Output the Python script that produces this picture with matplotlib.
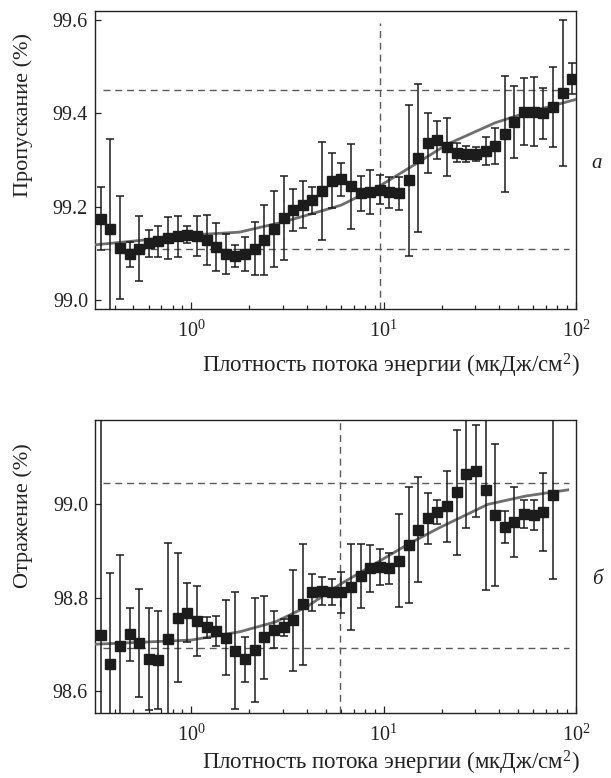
import matplotlib
matplotlib.use("Agg")
import matplotlib.pyplot as plt
from matplotlib.ticker import LogLocator, FixedLocator, NullFormatter

plt.rcParams['font.family'] = ['Liberation Serif', 'DejaVu Serif']
plt.rcParams['mathtext.fontset'] = 'custom'
plt.rcParams['mathtext.rm'] = 'Liberation Serif'
plt.rcParams['mathtext.it'] = 'Liberation Serif:italic'

# ---------------- data ----------------
x_fluence = [0.339, 0.380, 0.427, 0.479, 0.537, 0.603, 0.676, 0.759, 0.851, 0.955,
             1.072, 1.202, 1.349, 1.514, 1.698, 1.905, 2.138, 2.399, 2.692, 3.020,
             3.388, 3.802, 4.266, 4.786, 5.370, 6.026, 6.761, 7.586, 8.511, 9.550,
             10.72, 12.02, 13.49, 15.14, 16.98, 19.05, 21.38, 23.99, 26.92, 30.20,
             33.88, 38.02, 42.66, 47.86, 53.70, 60.26, 67.61, 75.86, 85.11, 95.50]

trans = [99.175, 99.152, 99.113, 99.099, 99.111, 99.122, 99.127, 99.134, 99.137, 99.141,
         99.138, 99.129, 99.114, 99.100, 99.095, 99.100, 99.111, 99.130, 99.153, 99.177,
         99.193, 99.205, 99.214, 99.234, 99.256, 99.259, 99.244, 99.229, 99.232, 99.237,
         99.231, 99.229, 99.257, 99.304, 99.337, 99.343, 99.329, 99.316, 99.314, 99.314,
         99.320, 99.330, 99.356, 99.382, 99.404, 99.404, 99.400, 99.414, 99.444, 99.474]
trans_err = [0.068, 0.194, 0.110, 0.027, 0.069, 0.029, 0.033, 0.045, 0.043, 0.018,
             0.042, 0.054, 0.052, 0.043, 0.024, 0.036, 0.057, 0.075, 0.081, 0.090,
             0.045, 0.050, 0.029, 0.105, 0.059, 0.035, 0.091, 0.038, 0.048, 0.031,
             0.033, 0.035, 0.161, 0.158, 0.065, 0.041, 0.062, 0.020, 0.017, 0.015,
             0.030, 0.038, 0.124, 0.077, 0.072, 0.074, 0.055, 0.085, 0.156, 0.033]

refl = [98.720, 98.658, 98.696, 98.721, 98.702, 98.668, 98.666, 98.711, 98.757, 98.768,
        98.750, 98.736, 98.729, 98.714, 98.686, 98.668, 98.688, 98.715, 98.731, 98.736,
        98.751, 98.786, 98.811, 98.814, 98.813, 98.811, 98.823, 98.846, 98.863, 98.866,
        98.863, 98.879, 98.913, 98.946, 98.970, 98.984, 98.996, 99.026, 99.065, 99.071,
        99.031, 98.977, 98.952, 98.963, 98.979, 98.977, 98.983, 99.021]
refl_err = [0.500, 0.194, 0.195, 0.057, 0.116, 0.110, 0.105, 0.207, 0.138, 0.063,
            0.076, 0.022, 0.032, 0.080, 0.125, 0.048, 0.112, 0.089, 0.040, 0.018,
            0.108, 0.130, 0.040, 0.030, 0.028, 0.044, 0.092, 0.068, 0.050, 0.038,
            0.033, 0.100, 0.125, 0.112, 0.055, 0.026, 0.076, 0.134, 0.116, 0.099,
            0.215, 0.153, 0.034, 0.075, 0.030, 0.033, 0.084, 0.181]

# fitted curves
fit_t_x = [0.316, 0.562, 1.0, 1.778, 3.02, 4.90, 6.03, 9.55, 15.1, 21.4, 38.0, 53.7, 100.0]
fit_t_y = [99.119, 99.129, 99.140, 99.146, 99.168, 99.193, 99.204, 99.245, 99.295,
           99.334, 99.380, 99.400, 99.430]
fit_r_x = [0.316, 1.0, 1.80, 2.74, 4.01, 5.97, 13.6, 19.3, 34.8, 55.0, 90.6]
fit_r_y = [98.700, 98.709, 98.727, 98.748, 98.781, 98.829, 98.916, 98.949, 99.000,
           99.018, 99.031]

# reference levels
t_levels = [99.11, 99.45]
t_vline = 9.55
r_levels = [98.692, 99.046]
r_vline = 5.9

t_yticks = [99.0, 99.2, 99.4, 99.6]
r_yticks = [98.6, 98.8, 99.0]
x_major = [1, 10, 100]
x_major_labels = ['$10^0$', '$10^1$', '$10^2$']

xlabel = 'Плотность потока энергии (мкДж/см$^2$)'

# ---------------- figure ----------------
fig = plt.figure(figsize=(6.11, 7.78), dpi=100)
ax1 = fig.add_axes([0.1555, 0.6024, 0.7872, 0.3834])
ax2 = fig.add_axes([0.1555, 0.0832, 0.7872, 0.3770])

mark_col = '#1c1c1c'
fit_col = '#6e6e6e'
dash_col = '#5a5a5a'


def style(ax, yticks, ylim, ylabel, ylab_y, xlab_y):
    ax.set_xscale('log')
    ax.set_xlim(10 ** -0.5, 100)
    ax.set_ylim(*ylim)
    ax.xaxis.set_major_locator(FixedLocator(x_major))
    ax.set_xticklabels(x_major_labels)
    ax.xaxis.set_minor_locator(LogLocator(base=10, subs=range(2, 10)))
    ax.xaxis.set_minor_formatter(NullFormatter())
    ax.set_yticks(yticks)
    ax.set_yticklabels([f'{v:.1f}' for v in yticks])
    ax.tick_params(axis='both', which='both', direction='in', top=False, right=False,
                   labelsize=14.5, width=0.9, colors='#222222')
    ax.tick_params(axis='x', which='major', length=5, pad=8)
    ax.tick_params(axis='x', which='minor', length=3)
    ax.tick_params(axis='y', which='major', length=4, pad=5)
    for s in ax.spines.values():
        s.set_linewidth(1.0)
        s.set_color('#222222')
    ax.set_ylabel(ylabel, fontsize=16, color='#222222')
    ax.yaxis.set_label_coords(-0.129, ylab_y)
    ax.set_xlabel(xlabel, fontsize=16.5, color='#222222')
    ax.xaxis.set_label_coords(0.615, xlab_y)


def draw(ax, x, y, err, fx, fy, levels, vline, vtop):
    for lv in levels:
        ax.axhline(lv, xmin=0.016, xmax=0.985, color=dash_col, lw=1.0, dashes=(5, 3.5))
    ax.axvline(vline, ymin=0, ymax=vtop, color=dash_col, lw=1.0, dashes=(5, 3.5))
    ax.plot(fx, fy, color=fit_col, lw=2.0, zorder=3)
    ax.errorbar(x, y, yerr=err, fmt='s', color=mark_col, ms=6.5, mec=mark_col,
                mfc=mark_col, ecolor=mark_col, elinewidth=1.1, capsize=2.6,
                capthick=1.1, zorder=4)


draw(ax1, x_fluence, trans, trans_err, fit_t_x, fit_t_y, t_levels, t_vline, 0.96)
draw(ax2, x_fluence[:len(refl)], refl, refl_err, fit_r_x, fit_r_y, r_levels, r_vline, 1.0)

style(ax1, t_yticks, (98.981, 99.619), 'Пропускание (%)', 0.65, -0.143)
style(ax2, r_yticks, (98.552, 99.181), 'Отражение (%)', 0.675, -0.122)

fig.text(597 / 611, 1 - 163 / 778, 'а', fontsize=15, style='italic',
         ha='center', va='center', color='#222222')
fig.text(597 / 611, 1 - 580 / 778, 'б', fontsize=15, style='italic',
         ha='center', va='center', color='#222222')

fig.savefig('out.png', dpi=100)
